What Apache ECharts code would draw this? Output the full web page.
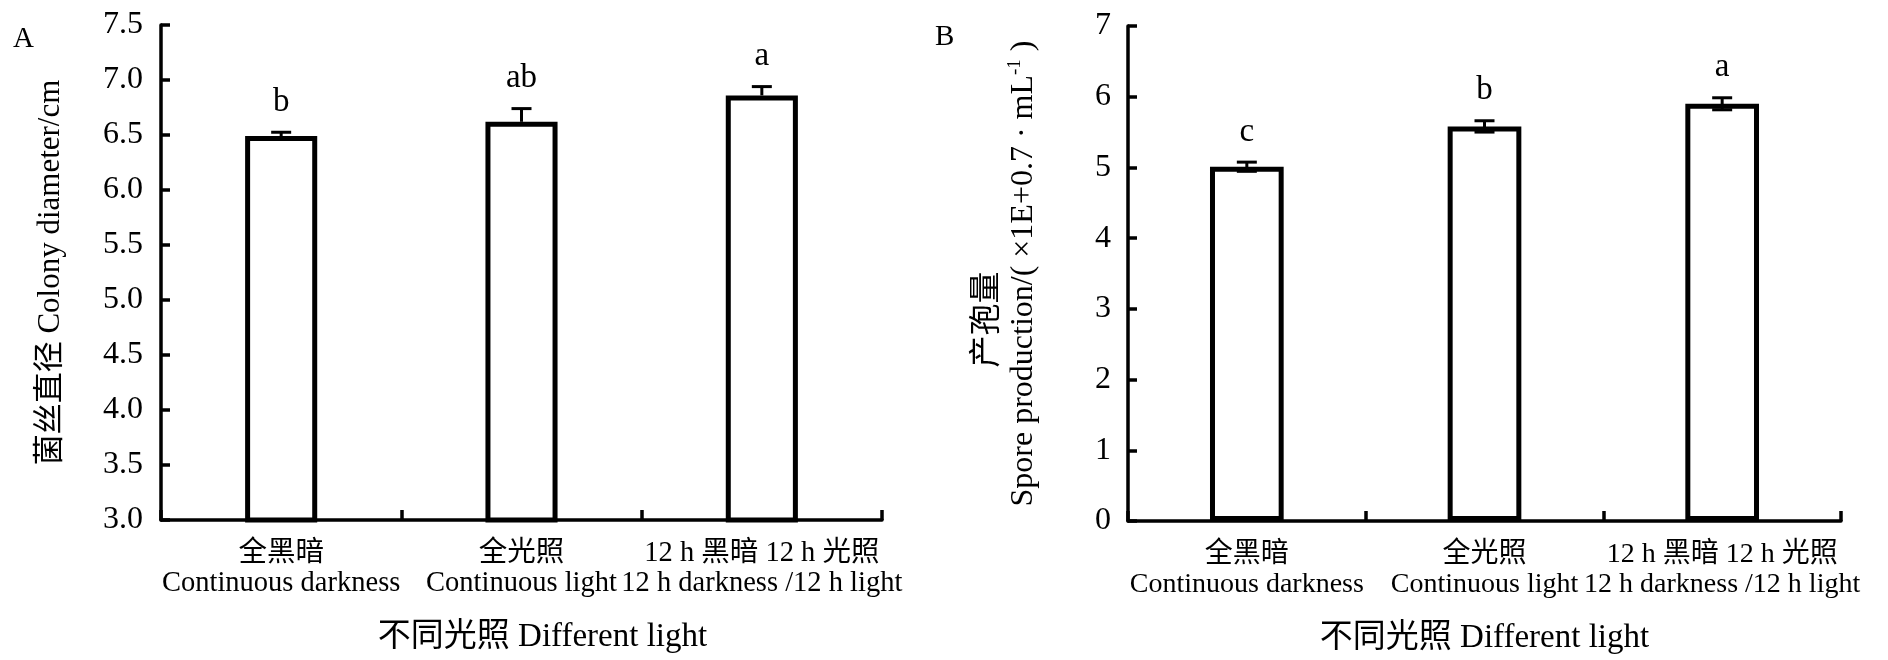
<!DOCTYPE html>
<html>
<head>
<meta charset="utf-8">
<style>html,body{margin:0;padding:0;background:#fff}#c{width:1888px;height:660px}</style>
<script src="https://cdn.jsdelivr.net/npm/echarts@6/dist/echarts.min.js"></script>
</head>
<body>
<div id="c"></div>
<script>
// ---- data ----
const categoriesZh = ['全黑暗', '全光照', '12 h 黑暗 12 h 光照'];
const categoriesEn = ['Continuous darkness', 'Continuous light', '12 h darkness /12 h light'];
const diameter = [6.49, 6.62, 6.86];
const diameterErr = [0.035, 0.12, 0.08];
const diameterLetters = ['b', 'ab', 'a'];
const spore = [5.01, 5.58, 5.90];
const sporeErr = [0.065, 0.08, 0.085];
const sporeLetters = ['c', 'b', 'a'];
const diameterTicks = [3.0, 7.5, 0.5]; // min, max, step
const sporeTicks = [0, 7, 1];

const FONT = "'Liberation Serif','Noto Sans CJK SC',serif";
const catLabels = categoriesZh.map((z, i) => z + '\n' + categoriesEn[i]);

function errData(vals, errs, both) {
  return vals.map((v, i) => [i, v + errs[i], both ? v - errs[i] : v]);
}
function letterData(vals, errs, letters) {
  return vals.map((v, i) => [i, v + errs[i], letters[i]]);
}
function errRender(both) {
  return function (params, api) {
    const hi = api.coord([api.value(0), api.value(1)]);
    const lo = api.coord([api.value(0), api.value(2)]);
    const h = 10;
    const st = { stroke: '#000', lineWidth: 3 };
    const ch = [
      { type: 'line', shape: { x1: hi[0], y1: hi[1], x2: lo[0], y2: lo[1] }, style: st },
      { type: 'line', shape: { x1: hi[0] - h, y1: hi[1], x2: hi[0] + h, y2: hi[1] }, style: st }
    ];
    if (both) ch.push({ type: 'line', shape: { x1: lo[0] - h, y1: lo[1], x2: lo[0] + h, y2: lo[1] }, style: st });
    return { type: 'group', children: ch };
  };
}
function letterRender(params, api) {
  const p = api.coord([api.value(0), api.value(1)]);
  return {
    type: 'text',
    style: { text: api.value(2), x: p[0], y: p[1] - 30, align: 'center', verticalAlign: 'middle',
      font: '33px ' + FONT, fill: '#000' }
  };
}

const axisLine = { show: true, lineStyle: { color: '#000', width: 3.5 } };
const axisTick = { show: true, inside: true, length: 10, lineStyle: { color: '#000', width: 3.5 } };

function xAxis(idx, shift, fs) {
  return {
    type: 'category', gridIndex: idx, data: catLabels,
    axisLine: axisLine, axisTick: axisTick,
    axisLabel: { interval: 0, color: '#000', fontFamily: FONT, fontSize: fs, lineHeight: 30, margin: 19 },
    name: '不同光照 Different light', nameLocation: 'middle', nameGap: 101,
    nameTextStyle: { color: '#000', fontFamily: FONT, fontSize: 33, padding: [0, 0, 0, shift] }
  };
}

const option = {
  animation: false,
  backgroundColor: '#fff',
  title: [
    { text: 'A', left: 8, top: 20, textStyle: { color: '#000', fontFamily: FONT, fontSize: 29, fontWeight: 'normal' } },
    { text: 'B', left: 930, top: 18, textStyle: { color: '#000', fontFamily: FONT, fontSize: 29, fontWeight: 'normal' } }
  ],
  grid: [
    { left: 161, right: 1006, top: 25, bottom: 140 },
    { left: 1128, right: 47, top: 26, bottom: 137 }
  ],
  xAxis: [xAxis(0, 42, 28.5), xAxis(1, 0, 28)],
  yAxis: [
    {
      type: 'value', gridIndex: 0, min: diameterTicks[0], max: diameterTicks[1], interval: diameterTicks[2],
      axisLine: axisLine, axisTick: Object.assign({}, axisTick, { length: 9 }), splitLine: { show: false },
      axisLabel: { color: '#000', fontFamily: FONT, fontSize: 32, margin: 18, formatter: v => v.toFixed(1) },
      name: '菌丝直径 Colony diameter/cm', nameLocation: 'middle', nameGap: 95,
      nameTextStyle: { color: '#000', fontFamily: FONT, fontSize: 31 }
    },
    {
      type: 'value', gridIndex: 1, min: sporeTicks[0], max: sporeTicks[1], interval: sporeTicks[2],
      axisLine: axisLine, axisTick: Object.assign({}, axisTick, { length: 9 }), splitLine: { show: false },
      axisLabel: { color: '#000', fontFamily: FONT, fontSize: 32, margin: 17 },
      name: '{zh|产孢量}{gap|\u00a0}\n{en|Spore production/( ×1E+0.7 · mL}{sup|-1}{en| )}',
      nameLocation: 'middle', nameGap: 86,
      nameTextStyle: {
        color: '#000', fontFamily: FONT, fontSize: 32,
        rich: {
          zh: { fontFamily: FONT, fontSize: 32, lineHeight: 36, color: '#000' },
          gap: { fontSize: 32, lineHeight: 36, width: 92 },
          en: { fontFamily: FONT, fontSize: 32, lineHeight: 36, color: '#000' },
          sup: { fontFamily: FONT, fontSize: 19, lineHeight: 19, verticalAlign: 'top', color: '#000' }
        }
      }
    }
  ],
  series: [
    { type: 'bar', xAxisIndex: 0, yAxisIndex: 0, data: diameter, barWidth: '30%',
      itemStyle: { color: '#fff', borderColor: '#000', borderWidth: 5 } },
    { type: 'bar', xAxisIndex: 1, yAxisIndex: 1, data: spore, barWidth: '31%',
      itemStyle: { color: '#fff', borderColor: '#000', borderWidth: 5 } },
    { type: 'custom', xAxisIndex: 0, yAxisIndex: 0, data: errData(diameter, diameterErr, false), renderItem: errRender(false), z: 5 },
    { type: 'custom', xAxisIndex: 1, yAxisIndex: 1, data: errData(spore, sporeErr, true), renderItem: errRender(true), z: 5 },
    { type: 'custom', xAxisIndex: 0, yAxisIndex: 0, data: letterData(diameter, diameterErr, diameterLetters), renderItem: letterRender, z: 6, clip: false },
    { type: 'custom', xAxisIndex: 1, yAxisIndex: 1, data: letterData(spore, sporeErr, sporeLetters), renderItem: letterRender, z: 6, clip: false }
  ]
};
const chart = echarts.init(document.getElementById('c'));
chart.setOption(option);
</script>
</body>
</html>
